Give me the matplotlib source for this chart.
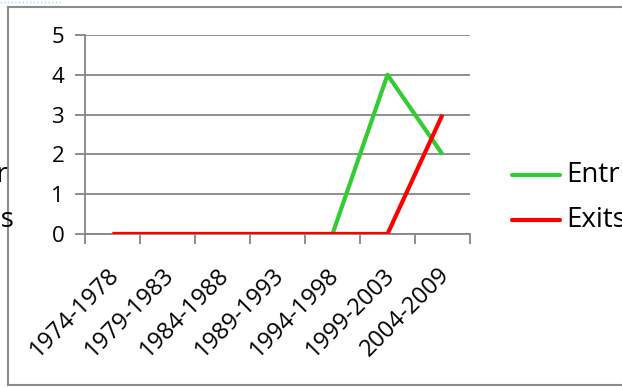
import matplotlib
matplotlib.use('Agg')
import matplotlib.pyplot as plt
import matplotlib.transforms as mtransforms
from matplotlib.lines import Line2D

periods = ['1974-1978', '1979-1983', '1984-1988', '1989-1993',
           '1994-1998', '1999-2003', '2004-2009']
entries = [0, 0, 0, 0, 0, 4, 2]
exits = [0, 0, 0, 0, 0, 0, 3]
series_names = ['Entries', 'Exits']
series_colors = ['#33cc33', '#ff0000']

plt.rcParams['font.family'] = ['Open Sans', 'DejaVu Sans']

W, H = 622, 388
fig = plt.figure(figsize=(W/100, H/100), dpi=100)

def fx(px):
  return px/W

def fy(py):
  return 1 - py/H

ax = fig.add_axes([fx(85), fy(234), fx(470) - fx(85), fy(35) - fy(234)])

x = list(range(len(periods)))
ax.plot(x, entries, color=series_colors[0], lw=3, solid_capstyle='butt', zorder=3)
ax.plot(x, exits, color=series_colors[1], lw=3, solid_capstyle='butt', zorder=4)

grid_c = '#868686'
ax.set_xlim(-0.5, len(periods) - 0.5)
ax.set_ylim(0, 5)
ax.set_yticks(range(6))
ax.yaxis.grid(True, color=grid_c, lw=1.3)
ax.set_axisbelow(True)
for s in ['top', 'right']:
  ax.spines[s].set_visible(False)
for s in ['left', 'bottom']:
  ax.spines[s].set_color(grid_c)
  ax.spines[s].set_linewidth(1.3)

# category ticks sit on the boundaries between periods
ax.set_xticks([i - 0.5 for i in range(len(periods) + 1)], minor=False)
ax.set_xticklabels([])
ax.set_xticks(x, minor=True)
ax.set_xticklabels(periods, minor=True, rotation=45, ha='right',
                   rotation_mode='anchor', fontsize=17)
ax.tick_params(axis='x', which='major', length=7, width=1.3, color=grid_c, direction='out')
ax.tick_params(axis='x', which='minor', length=0, pad=21)
ax.tick_params(axis='y', length=7, width=1.3, color=grid_c, labelsize=16, pad=8)
shift = mtransforms.ScaledTranslation(-5/100, 0, fig.dpi_scale_trans)
for lab in ax.get_xticklabels(minor=True):
  lab.set_transform(lab.get_transform() + shift)

# legend drawn by hand at the right edge
for i, (name, c) in enumerate(zip(series_names, series_colors)):
  yy = 175 + i*45
  fig.add_artist(Line2D([fx(512), fx(560)], [fy(yy), fy(yy)], color=c, lw=3,
                        solid_capstyle='round'))
  fig.text(fx(566), fy(yy), name, fontsize=20, va='center', ha='left')

# chart frame
frame_c = '#8c8c8c'
fig.add_artist(Line2D([fx(8), 1], [fy(7), fy(7)], color=frame_c, lw=1.5))
fig.add_artist(Line2D([fx(8), fx(8)], [fy(7), fy(385)], color=frame_c, lw=1.5))
fig.add_artist(Line2D([fx(8), 1], [fy(385), fy(385)], color=frame_c, lw=1.5))
fig.add_artist(Line2D([0, fx(60)], [fy(2), fy(2)], color='#9fd6ef', lw=1, ls=':'))

# leftover legend text of the chart next door
fig.text(fx(8), fy(175), 'Entr', fontsize=20, va='center', ha='right')
fig.text(fx(14), fy(220), 'Exits', fontsize=20, va='center', ha='right')

fig.savefig('out.png', dpi=100)
